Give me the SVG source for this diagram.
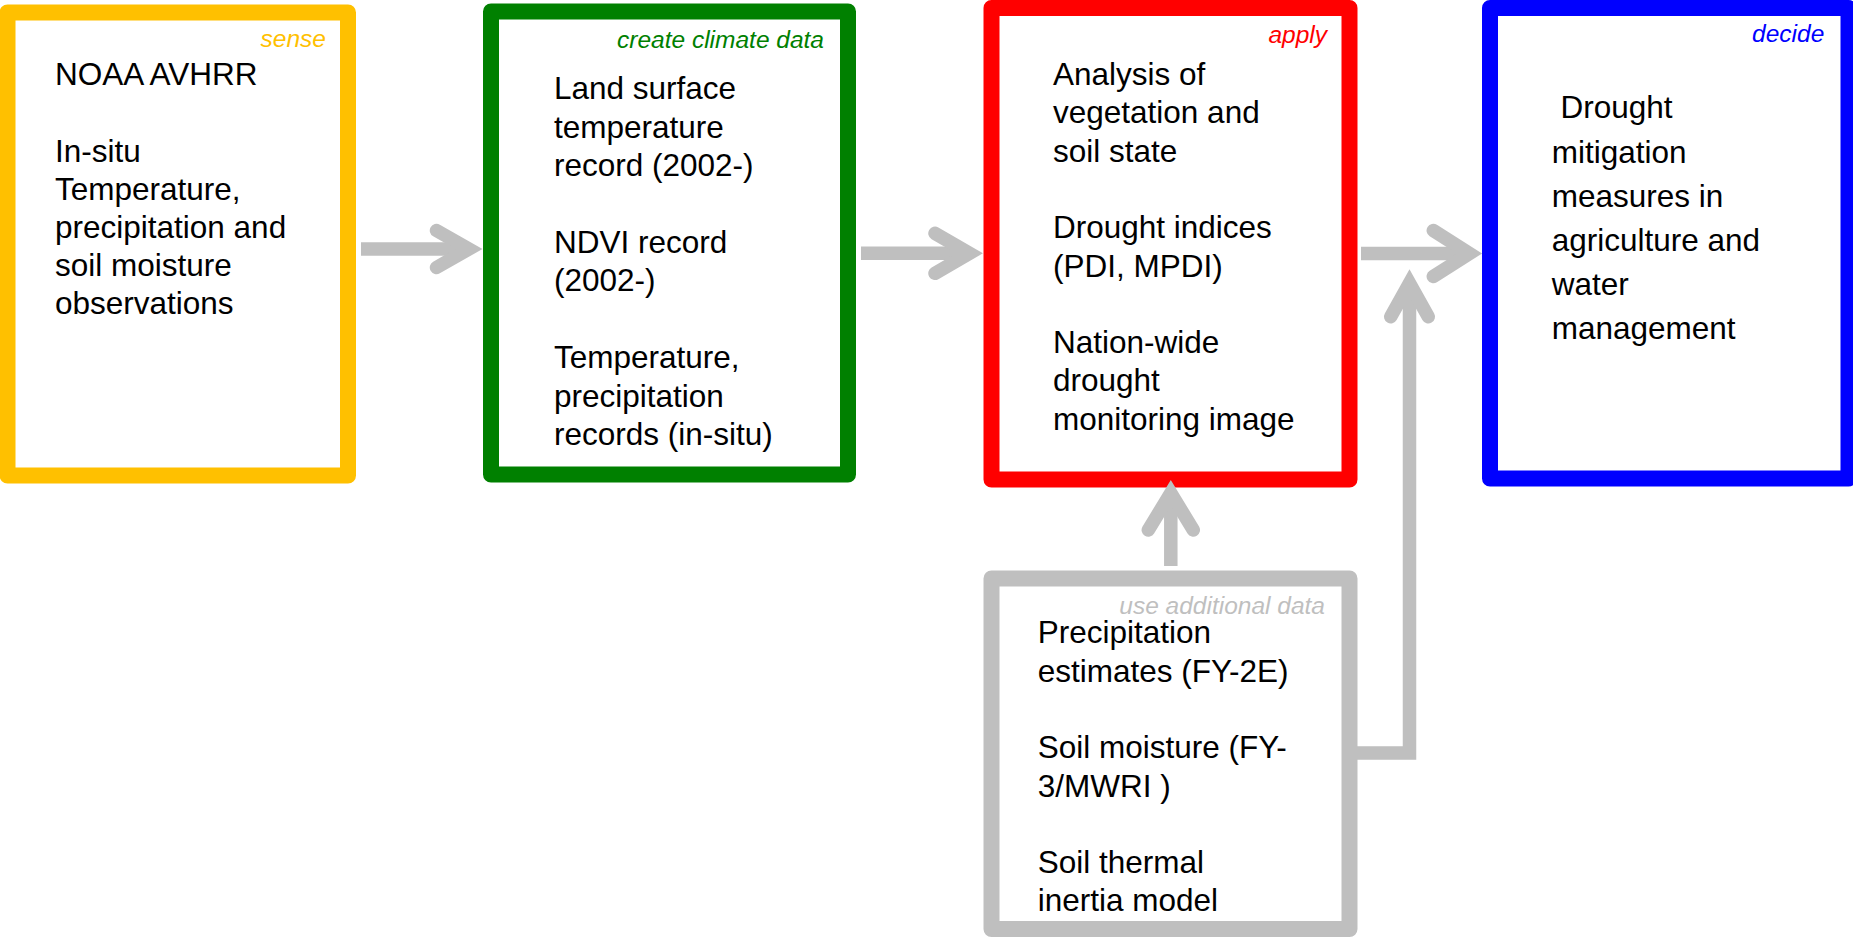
<svg xmlns="http://www.w3.org/2000/svg" width="1853" height="937" viewBox="0 0 1853 937">
  <style>
    .box { fill: #FFFFFF; stroke-width: 16; stroke-linejoin: round; }
    .body { font-family: "Liberation Sans", Arial, sans-serif; font-size: 31.5px; fill: #000000; }
    .tag { font-family: "Liberation Sans", Arial, sans-serif; font-size: 24.5px; font-style: italic; text-anchor: end; }
    .shaft { fill: none; stroke: #BFBFBF; stroke-width: 13.5; stroke-linejoin: miter; }
    .head { fill: none; stroke: #BFBFBF; stroke-width: 13.5; stroke-linecap: round; stroke-linejoin: miter; stroke-miterlimit: 6; }
  </style>
  <rect width="1853" height="937" fill="#FFFFFF"/>

  <!-- sense -->
  <g id="node-sense">
    <rect class="box" x="7.5" y="12.5" width="340.5" height="463" stroke="#FFC000"/>
    <text class="tag" x="326" y="46.7" fill="#FFC000">sense</text>
    <text class="body" x="55">
      <tspan x="55" y="85">NOAA AVHRR</tspan>
      <tspan x="55" y="162">In-situ</tspan>
      <tspan x="55" y="200">Temperature,</tspan>
      <tspan x="55" y="238">precipitation and</tspan>
      <tspan x="55" y="276">soil moisture</tspan>
      <tspan x="55" y="314">observations</tspan>
    </text>
  </g>

  <!-- create climate data -->
  <g id="node-climate-data">
    <rect class="box" x="491" y="11.5" width="357" height="463" stroke="#008000"/>
    <text class="tag" x="824" y="48.3" fill="#008000">create climate data</text>
    <text class="body">
      <tspan x="554" y="99.3">Land surface</tspan>
      <tspan x="554" y="137.7">temperature</tspan>
      <tspan x="554" y="176.1">record (2002-)</tspan>
      <tspan x="554" y="252.9">NDVI record</tspan>
      <tspan x="554" y="291.3">(2002-)</tspan>
      <tspan x="554" y="368.1">Temperature,</tspan>
      <tspan x="554" y="406.5">precipitation</tspan>
      <tspan x="554" y="444.9">records (in-situ)</tspan>
    </text>
  </g>

  <!-- apply -->
  <g id="node-apply">
    <rect class="box" x="991.5" y="8" width="358" height="471.5" stroke="#FF0000" stroke-width="16.5"/>
    <text class="tag" x="1327" y="43.3" fill="#FF0000">apply</text>
    <text class="body">
      <tspan x="1053" y="85">Analysis of</tspan>
      <tspan x="1053" y="123.3">vegetation and</tspan>
      <tspan x="1053" y="161.6">soil state</tspan>
      <tspan x="1053" y="238.2">Drought indices</tspan>
      <tspan x="1053" y="276.5">(PDI, MPDI)</tspan>
      <tspan x="1053" y="353.1">Nation-wide</tspan>
      <tspan x="1053" y="391.4">drought</tspan>
      <tspan x="1053" y="429.7">monitoring image</tspan>
    </text>
  </g>

  <!-- decide -->
  <g id="node-decide">
    <rect class="box" x="1490" y="8" width="358.5" height="470.5" stroke="#0000FF" stroke-width="16.5"/>
    <text class="tag" x="1824.3" y="41.7" fill="#0000FF">decide</text>
    <text class="body">
      <tspan x="1560.5" y="118.3">Drought</tspan>
      <tspan x="1551.7" y="162.5">mitigation</tspan>
      <tspan x="1551.7" y="206.7">measures in</tspan>
      <tspan x="1551.7" y="250.9">agriculture and</tspan>
      <tspan x="1551.7" y="295.1">water</tspan>
      <tspan x="1551.7" y="339.3">management</tspan>
    </text>
  </g>

  <!-- use additional data -->
  <g id="node-additional-data">
    <rect class="box" x="991.5" y="578.5" width="358" height="350.5" stroke="#BFBFBF"/>
    <text class="tag" x="1325" y="614" fill="#BFBFBF">use additional data</text>
    <text class="body">
      <tspan x="1037.7" y="643.3">Precipitation</tspan>
      <tspan x="1037.7" y="681.6">estimates (FY-2E)</tspan>
      <tspan x="1037.7" y="758.2">Soil moisture (FY-</tspan>
      <tspan x="1037.7" y="796.5">3/MWRI )</tspan>
      <tspan x="1037.7" y="873.1">Soil thermal</tspan>
      <tspan x="1037.7" y="911.4">inertia model</tspan>
    </text>
  </g>

  <!-- connectors: grey shafts with open chevron heads -->
  <g id="connectors">
    <!-- sense -> create climate data -->
    <path class="shaft" d="M361,249 H470"/>
    <path class="head" d="M436.5,230.5 L468.9,249 L436.5,267.5"/>
    <!-- create climate data -> apply -->
    <path class="shaft" d="M861,253.3 H970"/>
    <path class="head" d="M935,233.3 L969.5,253.3 L935,273.3"/>
    <!-- apply -> decide -->
    <path class="shaft" d="M1361,253.5 H1470"/>
    <path class="head" d="M1433.3,230.5 L1469.5,253.5 L1433.3,276.5"/>
    <!-- additional data -> apply -->
    <path class="shaft" d="M1170.8,566 V494"/>
    <path class="head" d="M1148.3,530 L1170.8,493 L1193.3,530"/>
    <!-- additional data -> decide (elbow) -->
    <path class="shaft" d="M1357,753 H1409.5 V284"/>
    <path class="head" d="M1390.7,316.7 L1409.5,283.1 L1428.3,316.7"/>
  </g>
</svg>
